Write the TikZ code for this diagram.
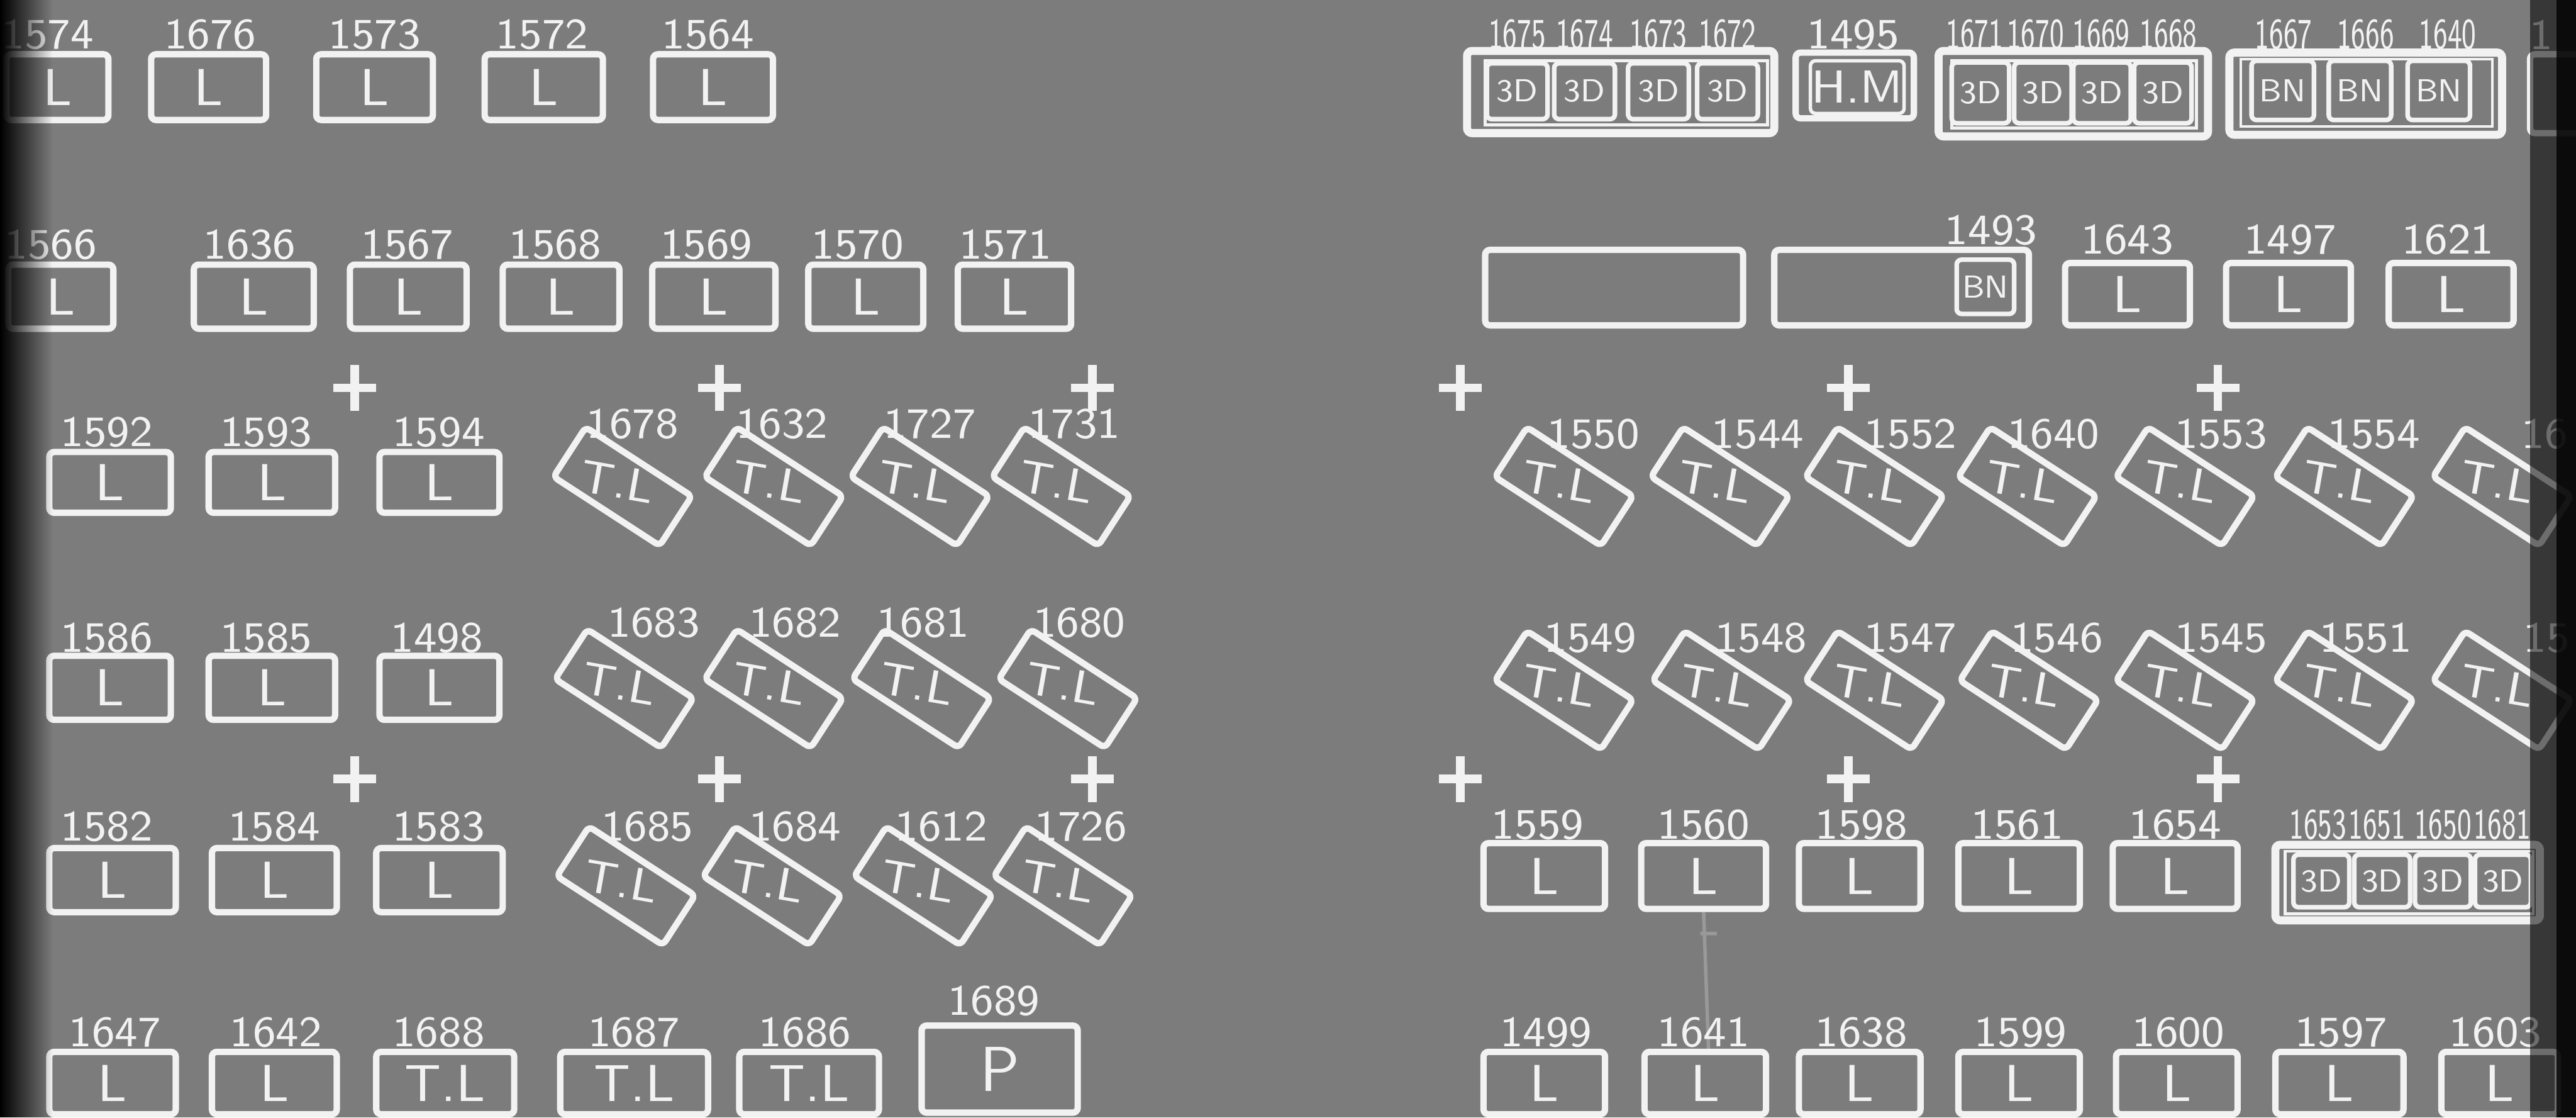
\documentclass[tikz,border=0pt]{standalone}
\usetikzlibrary{fadings}
\definecolor{fondo}{RGB}{124,124,124}
\definecolor{tiza}{RGB}{242,242,242}
\tikzfading[name=bordeizq, left color=transparent!0, right color=transparent!100]
\tikzset{
  caja/.style={draw=tiza, line width=1.1pt, rounded corners=0.3mm, rectangle, inner sep=0pt, text=tiza, font=\fontsize{9}{9}\sffamily},
  lote/.style={caja, minimum width=7.4mm, minimum height=3.9mm},
  lotetl/.style={caja, minimum width=7.7mm, minimum height=3.6mm, rotate=-33},
  celda/.style={caja, line width=0.8pt, minimum width=3.6mm, minimum height=3.4mm, font=\fontsize{5.5}{5.5}\sffamily},
  marco/.style={draw=tiza, line width=0.5pt},
  num/.style={text=tiza, inner sep=0pt, font=\fontsize{7.5}{7.5}\sffamily},
  numg/.style={num, xscale=0.62},
  rotulo/.style={text=tiza, inner sep=0pt, font=\fontsize{8}{8}\sffamily},
  cruz/.style={draw=tiza, line width=1.5pt}
}
\begin{document}
\begin{tikzpicture}[x=0.1mm, y=-0.1mm]
  % Marco de la foto (1568 x 680 unidades, y hacia abajo)
  \useasboundingbox (0,0) rectangle (1568,680);
  \clip (0,0) rectangle (1568,680);
  \fill[fondo] (0,0) rectangle (1568,680);

  % Fila 1, izquierda: lotes L
  \foreach \x/\w/\lx/\n in {35/62/29/1574, 127/70/128/1676, 228/71/228/1573, 331/72/330/1572, 434/73/431/1564}{
    \node[lote, minimum width=\w*0.1mm, minimum height=4mm] (f1-\n) at (\x,53) {L};
    \node[num] at (\lx,21) {\n};
  }

  % Fila 1, derecha: grupo 1672-1675
  \node[caja, line width=1.4pt, minimum width=18.7mm, minimum height=5mm] (f1-ga) at (986.5,56) {};
  \draw[marco] (904,37) rectangle (1076,76);
  \foreach \x/\n in {923.5/1675, 964.5/1674, 1009.5/1673, 1051.5/1672}{
    \node[celda, minimum width=3.7mm] (f1-\n) at (\x,55.5) {3D};
    \node[numg] at (\x,21) {\n};
  }
  % H.M
  \node[caja, minimum width=7.2mm, minimum height=4mm] (f1-1495) at (1129,52) {};
  \node[caja, line width=0.6pt, minimum width=5.7mm, minimum height=3.2mm, font=\fontsize{8}{8}\sffamily] (f1-hm) at (1130.5,53) {H.M};
  \node[num] at (1128,21) {1495};
  % grupo 1668-1671
  \node[caja, line width=1.4pt, minimum width=16.4mm, minimum height=5.2mm] (f1-gb) at (1262,57) {};
  \draw[marco] (1188,37) rectangle (1337,78);
  \foreach \x/\lx/\n in {1205.5/1202/1671, 1243.5/1239/1670, 1279.5/1279/1669, 1316.5/1320/1668}{
    \node[celda, minimum width=3.5mm, minimum height=3.7mm] (f1-\n) at (\x,56.5) {3D};
    \node[numg] at (\lx,21) {\n};
  }
  % grupo 1667, 1666, 1640
  \node[caja, line width=1.4pt, minimum width=16.6mm, minimum height=5mm] (f1-gc) at (1440,57) {};
  \draw[marco] (1364,36) rectangle (1517,77);
  \foreach \x/\lx/\n in {1389.5/1390/1667, 1436.5/1440/1666, 1484.5/1490/1640}{
    \node[celda, minimum width=3.8mm, minimum height=3.6mm] (f1-\n) at (\x,55) {BN};
    \node[numg] at (\lx,21) {\n};
  }
  % caja cortada en el borde
  \node[caja, minimum width=5mm, minimum height=4.8mm] (f1-borde) at (1565,57) {};
  \node[num] at (1547,21) {1};

  % Fila 2, izquierda: lotes L
  \foreach \x/\w/\lx/\n in {37/64/31/1566, 154.5/73/152/1636, 248.5/71/248/1567, 341.5/71/338/1568, 434.5/75/430/1569, 527/70/522/1570, 617.5/69/612/1571}{
    \node[lote, minimum width=\w*0.1mm] (f2-\n) at (\x,180.5) {L};
    \node[num] at (\lx,149) {\n};
  }

  % Fila 2, derecha: cajas largas y lotes L
  \node[caja, minimum width=15.7mm, minimum height=4.6mm] (f2-vacia) at (982.5,175) {};
  \node[caja, minimum width=15.5mm, minimum height=4.6mm] (f2-1493) at (1157.5,175) {};
  \node[celda, minimum width=3.5mm, minimum height=3.3mm] (f2-bn) at (1208.5,174.5) {BN};
  \node[num] at (1212,140) {1493};
  \foreach \x/\lx/\n in {1295/1295/1643, 1393/1394/1497, 1492/1490/1621}{
    \node[lote, minimum width=7.6mm, minimum height=3.8mm] (f2-\n) at (\x,179) {L};
    \node[num] at (\lx,146) {\n};
  }

  % Cruces de referencia
  \foreach \x in {216,438,665,889,1125,1350}{
    \draw[cruz] ({\x-13},236) -- ({\x+13},236) (\x,222) -- (\x,250);
    \draw[cruz] ({\x-13},474) -- ({\x+13},474) (\x,460) -- (\x,488);
  }

  % Fila 3, izquierda
  \foreach \x/\w/\lx/\n in {67/74/65/1592, 165.5/77/162/1593, 267.5/73/267/1594}{
    \node[lote, minimum width=\w*0.1mm, minimum height=3.7mm] (f3-\n) at (\x,293.5) {L};
    \node[num] at (\lx,263) {\n};
  }
  \foreach \x/\lx/\n in {379/385/1678, 471/476/1632, 560/566/1727, 646/654/1731}{
    \node[lotetl] (f3-\n) at (\x,296) {};
    \node[rotulo, rotate=-10] at ({\x-3},293) {T.L};
    \node[num] at (\lx,258) {\n};
  }

  % Fila 3, derecha
  \foreach \x/\lx/\n in {952/970/1550, 1047/1070/1544, 1141/1163/1552, 1234/1250/1640, 1330/1352/1553, 1427/1445/1554, 1523/1549/16}{
    \node[lotetl] (f3-\n) at (\x,296) {};
    \node[rotulo, rotate=-10] at ({\x-3},293) {T.L};
    \node[num] at (\lx,264) {\n};
  }

  % Fila 4, izquierda
  \foreach \x/\w/\lx/\n in {67/74/65/1586, 165.5/77/162/1585, 267.5/73/266/1498}{
    \node[lote, minimum width=\w*0.1mm] (f4-\n) at (\x,418.5) {L};
    \node[num] at (\lx,388) {\n};
  }
  \foreach \x/\lx/\n in {380/398/1683, 471/484/1682, 561/562/1681, 650/657/1680}{
    \node[lotetl] (f4-\n) at (\x,419) {};
    \node[rotulo, rotate=-10] at ({\x-3},416) {T.L};
    \node[num] at (\lx,379) {\n};
  }

  % Fila 4, derecha
  \foreach \x/\lx/\n in {952/968/1549, 1048/1072/1548, 1141/1163/1547, 1235/1252/1546, 1330/1352/1545, 1427/1440/1551, 1523/1550/15}{
    \node[lotetl] (f4-\n) at (\x,420) {};
    \node[rotulo, rotate=-10] at ({\x-3},417) {T.L};
    \node[num] at (\lx,388) {\n};
  }

  % Fila 5, izquierda
  \foreach \x/\w/\lx/\n in {68.5/77/65/1582, 167/76/167/1584, 267.5/77/267/1583}{
    \node[lote, minimum width=\w*0.1mm] (f5-\n) at (\x,535.5) {L};
    \node[num] at (\lx,503) {\n};
  }
  \foreach \x/\lx/\n in {381/394/1685, 470/484/1684, 562/573/1612, 647/658/1726}{
    \node[lotetl] (f5-\n) at (\x,539) {};
    \node[rotulo, rotate=-10] at ({\x-3},536) {T.L};
    \node[num] at (\lx,503) {\n};
  }

  % Fila 5, derecha
  \foreach \x/\w/\lx/\n in {940/74/936/1559, 1037/76/1037/1560, 1132/74/1133/1598, 1229/74/1228/1561, 1324/76/1324/1654}{
    \node[lote, minimum width=\w*0.1mm, minimum height=4mm] (f5-\n) at (\x,533) {L};
    \node[num] at (\lx,502) {\n};
  }
  \node[caja, line width=1.4pt, minimum width=16.1mm, minimum height=4.6mm] (f5-gd) at (1465.5,537) {};
  \draw[marco] (1391,518) rectangle (1542,556);
  \foreach \x/\lx/\n in {1413/1411/1653, 1450/1447/1651, 1487/1487/1650, 1523.5/1523/1681}{
    \node[celda, minimum width=3.4mm, minimum height=3.2mm] (f5-g\n) at (\x,536) {3D};
    \node[numg] at (\lx,502) {\n};
  }
  % traza tenue bajo 1560
  \draw[tiza, opacity=0.25, line width=0.6pt] (f5-1560.south) -- (1040,640) (1035,568) -- (1045,568);

  % Fila 6, izquierda
  \foreach \x/\w/\lx/\n/\t in {68.5/77/70/1647/L, 167/76/168/1642/L, 271/84/267/1688/T.L, 386/90/386/1687/T.L, 492.5/85/490/1686/T.L}{
    \node[lote, minimum width=\w*0.1mm, minimum height=3.8mm] (f6-\n) at (\x,659) {\t};
    \node[num] at (\lx,628) {\n};
  }
  \node[caja, minimum width=9.5mm, minimum height=5.3mm, font=\fontsize{11}{11}\sffamily] (f6-1689) at (608.5,650.5) {P};
  \node[num] at (605,609) {1689};

  % Fila 6, derecha
  \foreach \x/\w/\lx/\n in {940/74/941/1499, 1038/74/1037/1641, 1132/74/1133/1638, 1229/74/1230/1599, 1325/74/1326/1600, 1424/78/1425/1597, 1521.5/71/1519/1603}{
    \node[lote, minimum width=\w*0.1mm, minimum height=3.8mm] (f6-\n) at (\x,659) {L};
    \node[num] at (\lx,628) {\n};
  }

  % Bordes oscuros de la foto
  \fill[black, path fading=bordeizq] (0,0) rectangle (32,680);
  \fill[black, opacity=0.55] (1540,0) rectangle (1568,680);
  \fill[black, opacity=0.8] (1556,0) rectangle (1568,680);
\end{tikzpicture}
\end{document}
